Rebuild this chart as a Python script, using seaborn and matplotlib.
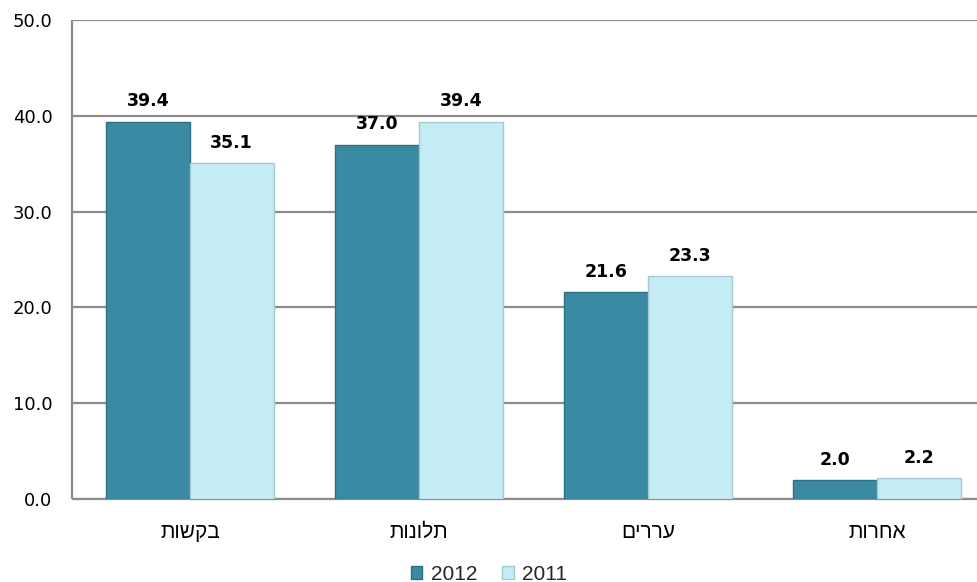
import matplotlib
matplotlib.use("Agg")
import matplotlib.pyplot as plt
import seaborn as sns
import pandas as pd
from matplotlib.patches import Patch

categories = ["בקשות", "תלונות", "עררים", "אחרות"]
years = ["2012", "2011"]
values_2012 = [39.4, 37.0, 21.6, 2.0]
values_2011 = [35.1, 39.4, 23.3, 2.2]
y_ticks = [0, 10, 20, 30, 40, 50]

colors = {"2012": "#3A8AA3", "2011": "#C3ECF5"}
edges = {"2012": "#2E6F84", "2011": "#A5C9D2"}

df = pd.DataFrame({
    "category": categories * 2,
    "year": ["2012"] * 4 + ["2011"] * 4,
    "value": values_2012 + values_2011,
})

sns.set_theme(style="white")
plt.rcParams["font.family"] = ["DejaVu Sans"]
plt.rcParams["lines.solid_capstyle"] = "butt"

fig = plt.figure(figsize=(9.78, 5.82), dpi=100)
ax = fig.add_axes([72 / 978, 83 / 582, 1 - 72 / 978, 479 / 582])

sns.barplot(data=df, x="category", y="value", hue="year", hue_order=years,
            order=categories, palette=colors, width=0.73, gap=0, ax=ax,
            legend=False, saturation=1)

for cont, yr in zip(ax.containers, years):
    for bar in cont:
        bar.set_edgecolor(edges[yr])
        bar.set_linewidth(1.0)
    for bar, v in zip(cont, values_2012 if yr == "2012" else values_2011):
        ax.annotate(f"{v:.1f}", (bar.get_x() + bar.get_width() / 2, v),
                    xytext=(0, 14.5), textcoords="offset points",
                    ha="center", va="center", fontsize=12.5,
                    fontweight="bold", color="black")

ax.set_ylim(0, 50)
ax.set_xlim(-0.515, 3.441)
ax.set_yticks(y_ticks, [f"{t:.1f}" for t in y_ticks])
ax.set_xticks(range(len(categories)), [c[::-1] for c in categories])
for lab in ax.get_xticklabels():
    lab.set_family(["Liberation Sans", "DejaVu Sans"])
    lab.set_fontsize(15)
for lab in ax.get_yticklabels():
    lab.set_fontsize(13)
ax.tick_params(axis="x", length=0, pad=17, colors="black", bottom=False)
ax.tick_params(axis="y", length=0, pad=14, colors="black", left=False)
ax.set_xlabel("")
ax.set_ylabel("")

ax.yaxis.grid(True, color="#8C8C8C", linewidth=1.6)
ax.set_axisbelow(True)
for s in ["top", "right"]:
    ax.spines[s].set_visible(False)
for s in ["left", "bottom"]:
    ax.spines[s].set_color("#8C8C8C")
    ax.spines[s].set_linewidth(1.6)
    ax.spines[s].set_zorder(0.5)
    ax.spines[s].set_capstyle("butt")

handles = [Patch(facecolor=colors[y], edgecolor=edges[y], label=y) for y in years]
fig.legend(handles=handles, loc="lower center", bbox_to_anchor=(0.5, -0.035),
           ncol=2, frameon=False, handlelength=0.55, handleheight=0.55,
           handletextpad=0.4, columnspacing=1.2,
           prop={"family": ["Liberation Sans", "DejaVu Sans"], "size": 15})

fig.savefig("out.png", dpi=100)
